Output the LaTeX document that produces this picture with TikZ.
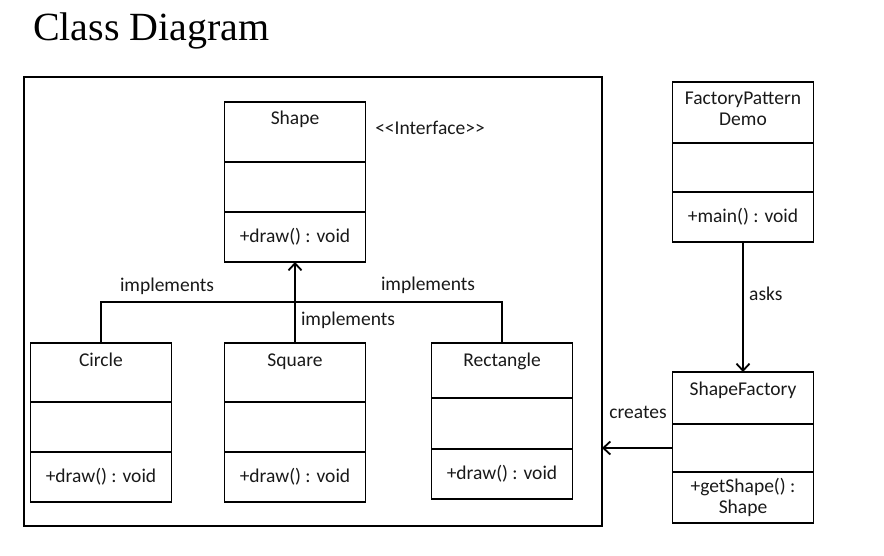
\documentclass[tikz,border=0pt]{standalone}
\usepackage{fontspec}
\setmainfont{Carlito}
\newfontfamily\titulofont{Liberation Serif}
\usepackage{tikz}
\usetikzlibrary{positioning, arrows.meta}

\tikzset{
    caja/.style={draw, line width=1.8pt, outer sep=0pt, minimum width=141pt, inner sep=0pt},
    nombre/.style={caja, anchor=north, text height=23pt},
    flecha/.style={line width=1.8pt, -{Straight Barb[length=7pt, width=13pt]}},
}

\begin{document}
\begin{tikzpicture}[x=1pt, y=-1pt, font=\fontsize{19.5}{21}\selectfont, text=black!90]
        \useasboundingbox (0,0) rectangle (884,556);
        % Titulo
        \node[anchor=base west, inner sep=0pt, text=black, font=\titulofont\fontsize{40}{44}\selectfont] (titulo) at (33,41) {Class Diagram};
        % Marco
        \node[caja, minimum width=578pt, minimum height=449pt, anchor=north west] (marco) at (24,77) {};
        % Interfaz
        \node[nombre, text depth=37pt] (shape) at (295,102) {Shape};
        \node[caja, minimum height=50pt, below=0pt of shape] (shape-attr) {};
        \node[caja, minimum height=50pt, below=0pt of shape-attr] (shape-meth) {+draw() : void};
        \node (interfaz) at (430,128) {<\kern0pt<Interface>\kern0pt>};
        % Clases concretas
        \node[nombre, text depth=36pt] (circle) at (101,343) {Circle};
        \node[caja, minimum height=50pt, below=0pt of circle] (circle-attr) {};
        \node[caja, minimum height=50pt, below=0pt of circle-attr] (circle-meth) {+draw() : void};
        \node[nombre, text depth=36pt] (square) at (295,343) {Square};
        \node[caja, minimum height=50pt, below=0pt of square] (square-attr) {};
        \node[caja, minimum height=50pt, below=0pt of square-attr] (square-meth) {+draw() : void};
        \node[nombre, text depth=32pt] (rect) at (502,343) {Rectangle};
        \node[caja, minimum height=51pt, below=0pt of rect] (rect-attr) {};
        \node[caja, minimum height=50pt, below=0pt of rect-attr] (rect-meth) {+draw() : void};
        % Demo
        \node[nombre, text depth=38pt] (demo) at (743,82) {\begin{tabular}[t]{@{}c@{}}FactoryPattern\\Demo\end{tabular}};
        \node[caja, minimum height=49pt, below=0pt of demo] (demo-attr) {};
        \node[caja, minimum height=50pt, below=0pt of demo-attr] (demo-meth) {+main() : void};
        % Fabrica
        \node[nombre, text depth=29pt] (factory) at (743,372) {ShapeFactory};
        \node[caja, minimum height=48pt, below=0pt of factory] (factory-attr) {};
        \node[caja, minimum height=51pt, align=center, below=0pt of factory-attr] (factory-meth) {+getShape() :\\Shape};
        % Relaciones
        \coordinate (union) at (295,302);
        \draw[line width=1.8pt] (circle.north) |- (union) -| (rect.north);
        \draw[flecha] (square.north) -- (shape-meth.south);
        \node (impl-izq) at (167,286) {implements};
        \node (impl-der) at (428,285) {implements};
        \node (impl-med) at (348,320) {implements};
        \draw[flecha] (demo-meth.south) -- (factory.north) node[pos=0.4, right, xshift=2pt] (asks) {asks};
        \draw[flecha] (factory-attr.west) -- (factory-attr.west -| marco.east);
        \node (creates) at (638,412) {creates};
    \end{tikzpicture}
\end{document}
